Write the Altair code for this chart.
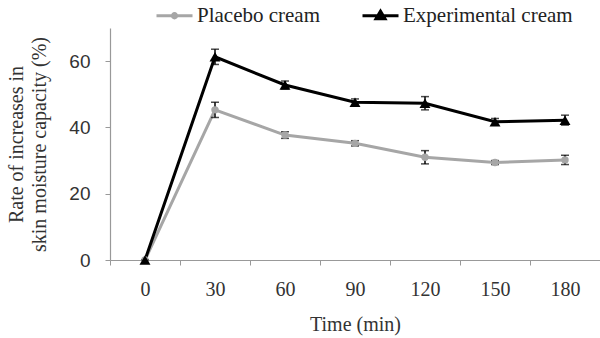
import altair as alt
import pandas as pd

# Time points (min) and mean increase in skin moisture capacity (%) with error
times = [0, 30, 60, 90, 120, 150, 180]
placebo = [0, 45.3, 37.7, 35.2, 31.0, 29.4, 30.2]
placebo_err = [0, 2.3, 1.0, 0.8, 2.0, 0.6, 1.4]
experimental = [0, 61.3, 52.8, 47.6, 47.3, 41.7, 42.2]
experimental_err = [0, 2.3, 1.2, 1.0, 2.0, 1.0, 1.5]

series_names = ["Placebo cream", "Experimental cream"]
series_colors = ["#a6a6a6", "#000000"]
series_markers = ["circle", "triangle-up"]
marker_sizes = [55, 120]

rows = []
for name, vals, errs in [
    (series_names[0], placebo, placebo_err),
    (series_names[1], experimental, experimental_err),
]:
    for t, v, e in zip(times, vals, errs):
        rows.append({"time": t, "value": v, "lo": v - e, "hi": v + e, "series": name})
df = pd.DataFrame(rows)

serif = "Liberation Serif"
sans = "Liberation Sans"

x_scale = alt.Scale(type="band", paddingInner=0, paddingOuter=0)
x_axis = alt.Axis(
    title="Time (min)",
    labelAngle=0,
    tickBand="extent",
    labelFont=serif,
    labelFontSize=20,
    labelColor="#333333",
    labelPadding=14,
    titleFont=serif,
    titleFontSize=20,
    titleFontWeight="normal",
    titleColor="#333333",
    titlePadding=15,
)
y_scale = alt.Scale(domain=[0, 70])
y_axis = alt.Axis(
    title=["Rate of increases in", "skin moisture capacity (%)"],
    values=[0, 20, 40, 60],
    labelFont=sans,
    labelFontSize=19,
    labelColor="#333333",
    labelPadding=15,
    titleFont=serif,
    titleFontSize=20,
    titleFontWeight="normal",
    titleColor="#333333",
    titleLineHeight=23,
    titlePadding=19,
)


def xy(yfield):
    return dict(
        x=alt.X("time:O", sort=times, scale=x_scale, axis=x_axis),
        y=alt.Y(yfield, scale=y_scale, axis=y_axis),
    )


base = alt.Chart(df)

layers = []
# one line per series, in its own colour
for name, col in zip(series_names, series_colors):
    layers.append(
        base.transform_filter(alt.datum.series == name)
        .mark_line(strokeWidth=3, color=col)
        .encode(**xy("value:Q"))
    )

layers.append(
    base.mark_errorbar(
        ticks={"size": 8, "thickness": 1.5, "color": "#000000"},
        rule={"strokeWidth": 1.5, "color": "#000000"},
    ).encode(y2="hi:Q", **xy("lo:Q"))
)

# markers on top of the lines
for name, col, shp, sz in zip(series_names, series_colors, series_markers, marker_sizes):
    layers.append(
        base.transform_filter(alt.datum.series == name)
        .mark_point(filled=True, opacity=1, shape=shp, size=sz, color=col)
        .encode(**xy("value:Q"))
    )

# Legend symbols: a short line with the series marker drawn on it
legend_shapes = [
    "M-1,0H1M-0.12,0A0.12,0.12,0,1,1,0.12,0A0.12,0.12,0,1,1,-0.12,0Z",
    "M-1,0H1M-0.25,0.17L0,-0.25L0.25,0.17ZM-0.1,0.07L0,-0.1L0.1,0.07Z",
]
legend_cfg = alt.Legend(
    title=None,
    orient="none",
    legendX=45,
    legendY=-32,
    direction="horizontal",
    symbolSize=1296,
    symbolStrokeWidth=3,
    symbolOpacity=1,
    labelFont=serif,
    labelFontSize=21,
    labelColor="#222222",
    labelOffset=3,
    labelLimit=400,
    columnPadding=35,
)
layers.append(
    base.mark_point(filled=False, opacity=1, size=0, strokeWidth=3).encode(
        color=alt.Color(
            "series:N",
            scale=alt.Scale(domain=series_names, range=series_colors),
            legend=legend_cfg,
        ),
        shape=alt.Shape(
            "series:N",
            scale=alt.Scale(domain=series_names, range=legend_shapes),
            legend=legend_cfg,
        ),
        **xy("value:Q"),
    )
)

chart = (
    alt.layer(*layers)
    .properties(
        width=490,
        height=232,
        autosize="none",
        padding={"left": 110, "top": 28, "right": 0, "bottom": 78},
        background="#ffffff",
    )
    .configure_view(stroke=None)
    .configure_axis(
        grid=False,
        domainColor="#999999",
        tickColor="#999999",
        tickSize=5,
        domainWidth=1.2,
    )
)

chart.save("out.html", embed_options={"renderer": "svg", "actions": False})
